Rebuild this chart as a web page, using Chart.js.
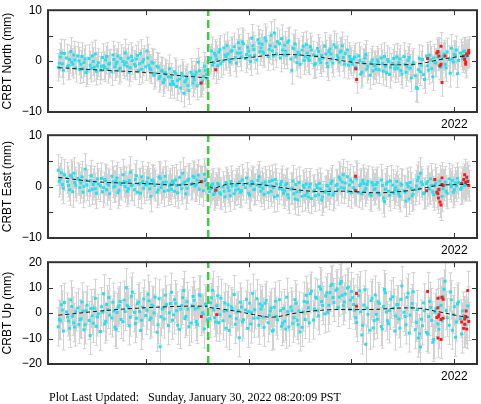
<!DOCTYPE html>
<html>
<head>
<meta charset="utf-8">
<script src="https://cdn.jsdelivr.net/npm/chart.js@4.4.1/dist/chart.umd.min.js"></script>
<style>
  body { margin: 0; background: #fff; width: 481px; height: 404px; position: relative; overflow: hidden; }
  canvas { position: absolute; left: 0; }
  #updated { position: absolute; left: 49px; top: 390px; font: 12px "Liberation Serif", "Times New Roman", serif; line-height: 14px; white-space: pre; color: #000; }
</style>
</head>
<body>
<canvas id="north" width="481" height="135" style="top:-3px"></canvas>
<canvas id="east" width="481" height="136" style="top:122px"></canvas>
<canvas id="up" width="481" height="135" style="top:249px"></canvas>
<div id="updated">Plot Last Updated:   Sunday, January 30, 2022 08:20:09 PST</div>
<script>
//station and event
const station = "CRBT";
const eventYear = 2019.607;
const xMin = 2018.05;
const xMax = 2022.22;
const yearTicks = [2019, 2020, 2021, 2022];

//epochs of the solutions (decimal year), first set
const epochs = [
  2018.15, 2018.17, 2018.19, 2018.21, 2018.24, 2018.26, 2018.28, 2018.30, 2018.32, 2018.35,
  2018.37, 2018.39, 2018.41, 2018.43, 2018.46, 2018.48, 2018.50, 2018.52, 2018.54, 2018.57,
  2018.59, 2018.61, 2018.63, 2018.65, 2018.68, 2018.70, 2018.72, 2018.74, 2018.76, 2018.79,
  2018.81, 2018.83, 2018.85, 2018.87, 2018.90, 2018.92, 2018.94, 2018.96, 2018.98, 2019.01,
  2019.03, 2019.05, 2019.07, 2019.09, 2019.12, 2019.14, 2019.16, 2019.18, 2019.20, 2019.23,
  2019.25, 2019.27, 2019.29, 2019.31, 2019.34, 2019.36, 2019.38, 2019.40, 2019.42, 2019.45,
  2019.47, 2019.49, 2019.51, 2019.53, 2019.56, 2019.58, 2019.60, 2019.63, 2019.65, 2019.67,
  2019.69, 2019.71, 2019.73, 2019.76, 2019.78, 2019.80, 2019.82, 2019.84, 2019.87, 2019.89,
  2019.91, 2019.93, 2019.95, 2019.98, 2020.00, 2020.02, 2020.04, 2020.06, 2020.09, 2020.11,
  2020.13, 2020.15, 2020.17, 2020.20, 2020.22, 2020.24, 2020.26, 2020.28, 2020.31, 2020.33,
  2020.35, 2020.37, 2020.39, 2020.42, 2020.44, 2020.46, 2020.48, 2020.50, 2020.53, 2020.55,
  2020.57, 2020.59, 2020.61, 2020.64, 2020.66, 2020.68, 2020.70, 2020.72, 2020.75, 2020.77,
  2020.79, 2020.81, 2020.83, 2020.86, 2020.88, 2020.90, 2020.92, 2020.94, 2020.97, 2020.99,
  2021.01, 2021.03, 2021.05, 2021.08, 2021.10, 2021.12, 2021.14, 2021.16, 2021.19, 2021.21,
  2021.23, 2021.25, 2021.27, 2021.30, 2021.32, 2021.34, 2021.36, 2021.38, 2021.41, 2021.43,
  2021.45, 2021.47, 2021.49, 2021.52, 2021.54, 2021.56, 2021.58, 2021.60, 2021.63, 2021.65,
  2021.67, 2021.69, 2021.71, 2021.74, 2021.76, 2021.78, 2021.80, 2021.82, 2021.85, 2021.87,
  2021.89, 2021.91, 2021.93, 2021.96, 2021.98, 2022.00, 2022.02, 2022.04, 2022.07, 2022.09,
  2022.11, 2022.13,
];

//second set of epochs, in between the first ones
const epochs2 = [
  2018.16, 2018.18, 2018.20, 2018.23, 2018.25, 2018.27, 2018.29, 2018.31, 2018.34, 2018.36,
  2018.38, 2018.40, 2018.42, 2018.45, 2018.47, 2018.49, 2018.51, 2018.53, 2018.56, 2018.58,
  2018.60, 2018.62, 2018.64, 2018.67, 2018.69, 2018.71, 2018.73, 2018.75, 2018.78, 2018.80,
  2018.82, 2018.84, 2018.86, 2018.89, 2018.91, 2018.93, 2018.95, 2018.97, 2019.00, 2019.02,
  2019.04, 2019.06, 2019.08, 2019.11, 2019.13, 2019.15, 2019.17, 2019.19, 2019.22, 2019.24,
  2019.26, 2019.28, 2019.30, 2019.33, 2019.35, 2019.37, 2019.39, 2019.41, 2019.44, 2019.46,
  2019.48, 2019.50, 2019.52, 2019.55, 2019.57, 2019.59, 2019.62, 2019.64, 2019.66, 2019.68,
  2019.70, 2019.72, 2019.75, 2019.77, 2019.79, 2019.81, 2019.83, 2019.86, 2019.88, 2019.90,
  2019.92, 2019.94, 2019.97, 2019.99, 2020.01, 2020.03, 2020.05, 2020.08, 2020.10, 2020.12,
  2020.14, 2020.16, 2020.19, 2020.21, 2020.23, 2020.25, 2020.27, 2020.30, 2020.32, 2020.34,
  2020.36, 2020.38, 2020.41, 2020.43, 2020.45, 2020.47, 2020.49, 2020.52, 2020.54, 2020.56,
  2020.58, 2020.60, 2020.63, 2020.65, 2020.67, 2020.69, 2020.71, 2020.74, 2020.76, 2020.78,
  2020.80, 2020.82, 2020.85, 2020.87, 2020.89, 2020.91, 2020.93, 2020.96, 2020.98, 2021.00,
  2021.02, 2021.04, 2021.07, 2021.09, 2021.11, 2021.13, 2021.15, 2021.18, 2021.20, 2021.22,
  2021.24, 2021.26, 2021.29, 2021.31, 2021.33, 2021.35, 2021.37, 2021.40, 2021.42, 2021.44,
  2021.46, 2021.48, 2021.51, 2021.53, 2021.55, 2021.57, 2021.59, 2021.62, 2021.64, 2021.66,
  2021.68, 2021.70, 2021.73, 2021.75, 2021.77, 2021.79, 2021.81, 2021.84, 2021.86, 2021.88,
  2021.90, 2021.92, 2021.95, 2021.97, 2021.99, 2022.01, 2022.03, 2022.06, 2022.08, 2022.10,
  2022.12,
];

//north component (mm)
const north = [
  -1.2, 0.8, -0.5, 1.5, -1.0, 0.3, -0.2, 1.2, -1.4, 0.0,
  -0.6, -1.5, 0.4, -1.9, -0.8, 1.0, -1.2, -2.0, -0.3, -1.0,
  -0.9, 0.2, -1.6, -0.4, 1.2, -1.1, -0.2, -1.8, 0.5, -0.7,
  -0.3, 0.6, -1.3, 0.1, -0.9, 1.1, -0.5, -1.6, 0.3, 2.0,
  -0.8, -1.7, -0.4, -2.4, -1.2, -3.0, -2.0, -3.6, -2.6, -1.5,
  -3.2, -4.6, -2.5, -3.8, -5.3, -2.9, -4.1, -3.3, -5.8, -2.7,
  -3.6, -2.2, -0.2, -4.4, -3.0, -1.8, -3.4, 0.6, -0.8, 1.5,
  0.4, 1.8, -0.5, 2.6, 0.9, 1.4, -0.2, 2.1, 0.7, 1.6,
  2.5, 0.8, 3.4, 1.3, 2.0, -0.1, 3.0, 1.1, 4.2, 1.9,
  3.3, 1.5, 4.0, 2.3, 5.1, 1.0, 2.8, 3.8, 0.6, 2.2,
  3.1, 1.2, 4.0, -1.8, 2.4, 0.8, 1.7, -0.6, 2.9, 0.9,
  1.6, 0.1, 2.2, -0.7, 1.0, 1.9, -0.3, 0.6, 1.4, -1.1,
  2.4, 0.4, 3.2, 1.1, -0.2, 2.0, 0.7, 1.5, -0.8, 0.3,
  -0.6, 0.8, -1.5, 0.1, -2.2, -0.4, 1.3, -1.0, -0.3, -1.9,
  -0.9, 0.2, -1.7, -0.5, 0.9, -2.3, -0.1, -1.2, 0.5, -0.8,
  -1.4, 0.4, -2.6, -0.6, -1.1, 0.7, -3.3, -0.2, -5.2, -1.7,
  -2.1, 0.3, -3.6, -0.9, 1.2, -1.5, 0.6, -0.4, 1.7, -1.2,
  0.9, -0.6, 1.8, -2.4, 0.4, 1.3, 2.2, 0.1, 1.0, 1.9,
  0.8, 1.5,
];
const north2 = [
  -0.4, 1.6, -1.8, 0.6, -0.9, 1.9, -0.6, 0.2, 1.0, -1.7,
  0.9, -0.3, -2.3, 0.5, -1.4, -0.1, 1.4, -0.9, -1.8, 0.7,
  -1.3, 0.9, -0.6, -2.1, 0.3, -0.5, 1.0, -1.4, -0.1, 1.6,
  -1.0, -2.2, 0.9, -0.6, 0.4, -1.9, 1.5, -0.2, -1.1, 0.6,
  -1.4, -0.2, -2.8, -1.0, -3.4, -1.9, -4.2, -2.3, -3.1, -4.6,
  -4.0, -2.1, -5.0, -3.5, -2.4, -6.3, -3.7, -4.8, -2.2, -4.3,
  -2.8, -4.9, -1.9, -3.9, -1.0, -2.6, 0.2, 2.0, -0.3, 1.1,
  -0.9, 2.3, 0.0, 1.2, 3.0, 0.3, 1.9, 2.8, -0.4, 3.6,
  1.6, 3.8, 0.5, 2.7, 1.0, 4.5, 2.3, 0.2, 3.5, 2.6,
  1.8, 4.6, 0.9, 3.0, 2.0, 5.5, 1.4, 3.4, 4.4, 1.2,
  2.0, 3.7, 0.4, 2.6, 3.4, -0.3, 1.3, 2.2, 0.1, 3.2,
  0.5, 2.8, 1.2, -0.5, 2.5, 0.3, 1.1, 2.9, -0.4, 1.9,
  1.4, -0.4, 2.7, 0.6, 1.8, 3.0, -0.6, 2.2, 0.9, -0.1,
  0.4, -1.2, 1.0, -2.6, -0.3, 0.6, -1.6, -2.8, 0.2, -0.7,
  -1.6, -0.2, 0.6, -2.0, -1.0, 0.3, -2.6, -0.4, -1.5, 0.8,
  -0.3, -1.9, 0.9, -2.2, 0.1, -1.4, -0.7, -2.9, -5.4, 0.5,
  -0.8, -2.7, 1.0, -1.8, 0.2, -3.1, -0.3, 0.8, -1.0, 0.4,
  1.4, -1.3, 0.3, 2.5, -0.2, 1.1, -2.5, 1.6, 0.5, 2.0,
  1.2,
];

//east component (mm)
const east = [
  3.2, 1.5, 0.4, 2.3, 1.0, -0.6, 1.9, 2.6, 0.2, 1.3,
  0.7, -1.1, 3.4, 0.3, 1.1, -0.5, 0.9, -1.3, 0.5, 1.6,
  -0.2, 1.2, 0.6, -1.4, 0.9, 0.1, 1.7, -0.7, 0.4, 1.0,
  0.8, -0.4, 2.8, 0.3, 1.4, -1.1, 0.6, 1.9, -0.3, 0.9,
  0.5, -1.9, 1.1, 0.2, -0.6, 1.6, 0.4, -0.9, 0.9, 0.1,
  -0.5, 0.7, 1.3, -1.2, 0.3, 2.6, 0.9, -0.3, 1.5, 0.6,
  1.8, 0.4, 2.2, 1.0, -0.8, 1.4, 0.6, -0.4, 0.5, -1.2,
  -0.6, 0.3, -1.5, -0.9, 0.8, -0.2, -1.8, 0.1, -0.7, 0.5,
  0.9, -0.8, 0.4, 1.7, -1.3, 0.2, 0.8, -0.5, 1.2, 0.0,
  0.6, -1.5, 0.3, 1.0, -0.9, -0.2, 1.4, -1.8, 0.4, -0.6,
  -0.8, 0.6, -2.2, -0.3, -1.4, 0.4, -2.6, -0.9, 0.2, -1.7,
  -1.2, -0.1, -2.3, -0.7, 0.3, -1.6, -0.4, -2.0, -0.9, 0.1,
  -0.5, 1.1, -1.3, 0.4, 1.8, -0.2, 2.3, 0.7, -0.9, 1.3,
  0.9, -0.6, 1.5, 0.2, -1.4, 0.6, -0.3, 1.0, -1.8, 0.3,
  -0.4, 0.8, -1.6, 0.2, -2.9, 0.5, -0.9, 1.1, -1.3, -0.1,
  -0.7, -1.9, 0.3, -1.1, 0.6, -2.4, -0.3, -1.5, 0.1, 1.8,
  2.6, 0.4, -1.2, 1.0, -0.5, 0.2, -1.6, 0.7, -0.8, 0.3,
  -0.4, 0.9, -1.3, 0.5, 1.2, -0.6, 0.1, 0.8, -0.2, 0.6,
  0.4, 1.1,
];
const east2 = [
  1.0, 2.7, -0.3, 1.7, 0.2, 2.2, -1.0, 0.8, 1.6, -0.2,
  1.9, 0.0, 1.2, -0.8, 2.1, 0.4, -0.4, 1.5, 0.1, -1.0,
  1.4, -0.6, 0.3, 2.0, -0.1, 1.1, -1.2, 0.7, 2.3, 0.0,
  -0.9, 1.2, 0.2, -0.6, 2.1, 0.5, -1.3, 1.0, 0.3, 1.7,
  -0.4, 1.3, 0.6, -1.1, 1.9, -0.2, 0.8, 2.0, -0.7, 0.5,
  1.1, -0.9, 0.2, 1.8, -0.4, 0.6, -1.4, 1.2, 0.4, 2.0,
  0.1, 1.3, -0.5, 0.9, 2.4, 0.3, -1.0, 0.2, -1.6, -0.3,
  0.6, -1.2, -0.1, -2.0, 0.4, -0.8, 1.0, -1.4, 0.2, -0.5,
  -1.1, 1.3, -0.2, 0.6, -1.7, 1.0, -0.6, 0.3, 1.9, -0.9,
  -0.3, 0.9, -1.2, 0.1, 1.2, -2.0, 0.5, -0.4, 1.0, -1.3,
  0.3, -1.6, -0.5, 1.1, -2.4, -1.0, 0.8, -1.9, -0.2, 0.5,
  -2.0, 0.5, -0.9, -1.8, -0.2, 0.6, -2.6, -1.1, 0.2, -1.5,
  0.6, -1.7, 0.2, -0.6, 1.4, 0.9, -0.3, 1.9, 0.3, -1.2,
  -0.2, 1.8, -1.1, 0.5, 1.2, -0.8, 0.4, -1.5, 0.8, -0.6,
  0.4, -1.2, 1.3, -2.2, -0.5, 0.9, -1.7, 0.3, -0.6, 1.0,
  -1.4, 0.5, -0.8, -2.8, 0.0, 0.8, -1.8, -0.6, 1.2, -0.4,
  0.9, -1.4, 0.6, -0.3, 1.5, -1.0, 0.2, -0.6, 1.1, -1.9,
  0.3, -0.9, 1.5, 0.0, -1.1, 0.7, 1.6, -0.5, 0.9, 0.2,
  1.4,
];

//vertical component (mm)
const up = [
  -5.4, -3.0, 1.2, 4.2, -1.5, -6.0, 2.6, -3.8, 0.5, -4.5,
  -2.2, 0.8, -4.6, 3.1, -8.8, -1.0, 1.9, -5.2, -0.3, 2.5,
  7.6, -3.2, 1.4, -0.8, 4.3, -5.6, 0.2, 2.9, -2.5, 5.1,
  10.0, 2.2, -1.6, 8.3, -4.1, 3.7, 0.6, -2.8, 5.5, 1.1,
  4.8, -1.9, 2.7, 6.2, -4.6, -13.2, 1.5, -2.3, 3.4, 0.1,
  8.2, -0.7, 3.9, -4.8, 1.6, 6.0, -2.1, 4.5, -5.3, 2.8,
  5.0, -3.3, 2.2, 6.8, -0.4, 3.6, -2.6, 4.1, 9.0, -1.8,
  2.9, -3.7, 5.8, 0.7, -5.9, 3.3, -1.2, 1.8, -4.4, 0.4,
  -9.7, 2.4, -2.6, 5.4, 0.6, -4.3, 7.8, 1.3, -1.9, 3.6,
  2.9, -5.6, 5.0, -0.8, 2.0, -6.6, 4.7, -2.7, 0.9, -4.0,
  -3.2, 6.2, -5.5, 1.0, -1.8, 3.9, -4.6, -7.4, 0.4, -2.5,
  4.3, -3.9, 8.6, 1.6, 5.8, -1.0, 9.4, 3.0, 6.7, 0.2,
  8.1, 11.3, 4.2, 9.6, 6.3, 12.4, 2.9, 7.5, 10.2, 5.1,
  6.0, 1.1, -3.7, 8.8, -8.6, 3.2, -12.2, -0.5, 4.9, -5.8,
  7.1, -2.4, 3.8, -6.3, 9.3, 0.4, -4.2, 5.4, 1.9, -1.1,
  3.3, -5.9, 10.7, -1.3, 6.2, -7.8, 2.1, 8.4, -3.6, -9.8,
  -13.3, -5.0, 0.9, -8.2, 4.6, -2.9, -10.4, 1.7, -6.4, 3.0,
  6.4, 12.5, -1.8, 8.3, -6.7, 2.5, -3.5, 4.4, -8.2, -1.0,
  -4.6, 2.8,
];
const up2 = [
  -2.4, 3.3, -7.0, 0.4, -3.1, 5.2, -1.2, -5.5, 2.0, -2.6,
  4.4, -6.5, 0.9, -2.9, 1.8, -4.0, 5.8, -1.5, -7.2, 0.3,
  -4.3, 3.4, 6.1, -1.9, 0.8, -6.4, 2.3, 4.6, -3.4, 0.6,
  3.0, -5.0, 6.6, 0.2, -2.0, 4.4, -6.8, 2.4, -0.9, 7.4,
  -2.6, 3.1, 0.0, -7.5, 5.6, -1.4, 2.0, 7.0, -4.9, 3.8,
  -2.8, 5.3, 0.9, -6.4, 3.0, 8.9, -1.3, 1.5, -3.9, 6.5,
  1.6, -4.5, 7.2, 0.1, -6.2, 2.8, -2.2, 6.0, 1.2, -3.5,
  6.8, -0.6, -3.0, 4.0, 1.0, -6.8, 2.5, 7.3, -2.2, 0.9,
  4.3, -3.5, 1.2, -6.0, 3.9, 0.2, -2.0, 5.6, -4.8, 1.6,
  -1.5, 3.9, -3.8, 0.8, -7.1, 2.3, -1.2, 5.3, -5.2, 1.8,
  -6.3, 0.5, 2.4, -4.0, 5.3, -2.8, 0.8, -5.6, 4.6, 7.0,
  2.1, 7.6, -2.7, 6.2, 0.9, 10.4, 4.6, -0.3, 8.0, 3.1,
  10.8, 6.1, 9.0, 2.2, 11.6, 7.0, 4.4, 9.8, 1.5, 8.5,
  3.4, -1.8, 6.8, 0.5, -4.8, 9.2, 2.0, -6.7, 5.8, -2.9,
  -0.5, 4.5, -5.3, 2.6, 8.0, -3.0, 1.0, 6.4, -7.0, 3.4,
  -2.3, 5.4, 0.3, -4.6, 7.9, -0.8, 3.8, -6.5, 1.4, -8.1,
  -2.4, 4.0, -7.6, -1.3, 2.2, -11.5, 0.3, -4.3, 6.0, -3.1,
  9.4, 1.0, -4.8, 5.2, -0.6, -9.5, 3.6, -2.2, 0.8, -6.0,
  -2.0,
];

//flagged (red) solutions
const northRedX = [2019.54, 2019.68, 2021.04, 2021.05, 2021.74, 2021.83, 2021.84, 2021.87, 2021.85, 2021.86, 2021.87, 2021.88, 2021.91, 2022.09, 2022.10, 2022.11, 2022.12, 2022.14, 2022.14, 2022.11];
const northRedY = [-4.3, -1.7, -1.5, -3.6, 0.5, 1.6, 1.9, 2.9, 1.0, -0.9, -0.6, -4.2, 1.0, 1.0, 0.3, -0.2, 1.4, 1.6, 2.1, -0.6];
const eastRedX = [2019.54, 2019.68, 2021.04, 2021.04, 2021.73, 2021.81, 2021.83, 2021.84, 2021.85, 2021.845, 2021.86, 2021.87, 2021.88, 2021.88, 2021.89, 2022.09, 2022.10, 2022.11, 2022.12, 2022.13, 2022.14, 2022.07];
const eastRedY = [1.0, -0.7, 2.0, -0.8, -0.8, 1.4, -1.1, -1.4, -0.5, -2.2, -3.0, -3.6, 1.7, 0.4, 0.2, 1.4, 2.3, 0.8, 1.8, 1.0, 0.2, 0.6];
const upRedX = [2019.54, 2019.69, 2021.05, 2021.05, 2021.74, 2021.84, 2021.88, 2021.89, 2021.84, 2021.845, 2021.87, 2021.83, 2021.84, 2021.87, 2021.85, 2021.89, 2022.10, 2022.11, 2022.13, 2022.07, 2022.09, 2022.12, 2022.14, 2022.115, 2022.10];
const upRedY = [-1.3, -0.6, 7.7, 2.7, 8.5, 5.8, 6.2, 5.4, 2.1, -1.3, -2.5, -1.7, -9.8, -10.4, -0.6, -2.0, -2.3, -1.3, 8.9, -3.5, -6.0, -6.3, -3.3, 0.8, -4.4];

//model curves (null = break at the event)
const northModelX = [2018.15, 2018.60, 2019.05, 2019.35, 2019.60, eventYear, 2019.62, 2019.81, 2020.01, 2020.29, 2020.62, 2020.78, 2021.04, 2021.26, 2021.53, 2021.68, 2021.87, 2022.04, 2022.14];
const northModelY = [-1.3, -1.8, -2.3, -2.9, -3.3, null, -0.3, 0.35, 0.7, 1.3, 1.0, 0.5, -0.3, -0.65, -0.7, -0.45, 0.35, 0.85, 1.0];
const eastModelX = [2018.15, 2018.55, 2019.04, 2019.28, 2019.45, 2019.58, eventYear, 2019.62, 2019.66, 2019.81, 2020.10, 2020.61, 2020.94, 2021.26, 2021.55, 2021.68, 2021.85, 2022.14];
const eastModelY = [1.8, 0.9, 0.55, 0.3, 0.5, 1.05, null, 0.0, -0.3, 0.5, 0.4, -0.9, -0.9, -1.2, -0.8, -0.4, 0.25, 0.4];
const upModelX = [2018.15, 2018.26, 2018.55, 2018.87, 2019.36, 2019.60, eventYear, 2019.62, 2019.75, 2019.90, 2020.05, 2020.23, 2020.46, 2020.78, 2021.17, 2021.62, 2021.85, 2022.07, 2022.14];
const upModelY = [-0.8, -0.4, 0.8, 1.8, 2.7, 2.7, null, 2.2, 1.5, 0.6, -0.6, -1.6, 0.0, 1.3, 1.4, 2.0, 0.5, -1.3, -1.6];

//typical 1-sigma error (mm)
const northSigma = 2.7;
const eastSigma = 3.0;
const upSigma = 7.5;

//axis ticks
const northTicks = [-10, -5, 0, 5, 10];
const eastTicks = [-10, -5, 0, 5, 10];
const upTicks = [-20, -10, 0, 10, 20];

Chart.defaults.font.family = "'Liberation Sans', Arial, sans-serif";
Chart.defaults.font.size = 12;
Chart.defaults.color = "#000";

//grey error bars under the points
const errorBars = {
  id: "errorBars",
  beforeDatasetsDraw(chart) {
    const { ctx, chartArea, scales } = chart;
    ctx.save();
    ctx.beginPath();
    ctx.rect(chartArea.left, chartArea.top, chartArea.width, chartArea.height);
    ctx.clip();
    ctx.strokeStyle = "#d2d2d2";
    ctx.lineWidth = 1;
    chart.data.datasets.forEach((ds) => {
      if (!ds.sigma) return;
      ds.data.forEach((p) => {
        const x = Math.round(scales.x.getPixelForValue(p.x)) + 0.5;
        const y1 = scales.y.getPixelForValue(p.y - ds.sigma);
        const y2 = scales.y.getPixelForValue(p.y + ds.sigma);
        ctx.beginPath();
        ctx.moveTo(x, y1);
        ctx.lineTo(x, y2);
        ctx.moveTo(x - 2, y1);
        ctx.lineTo(x + 2, y1);
        ctx.moveTo(x - 2, y2);
        ctx.lineTo(x + 2, y2);
        ctx.stroke();
      });
    });
    ctx.restore();
  },
};

//box around plot with inward tick marks
const frame = {
  id: "frame",
  afterDraw(chart) {
    const { ctx, chartArea: a, scales } = chart;
    ctx.save();
    ctx.strokeStyle = "#333";
    ctx.lineWidth = 1;
    ctx.beginPath();
    scales.x.ticks.forEach((t) => {
      const x = Math.round(scales.x.getPixelForValue(t.value)) + 0.5;
      ctx.moveTo(x, a.top);
      ctx.lineTo(x, a.top + 5);
      ctx.moveTo(x, a.bottom);
      ctx.lineTo(x, a.bottom - 5);
    });
    scales.y.ticks.forEach((t) => {
      const y = Math.round(scales.y.getPixelForValue(t.value)) + 0.5;
      ctx.moveTo(a.left, y);
      ctx.lineTo(a.left + 5, y);
      ctx.moveTo(a.right, y);
      ctx.lineTo(a.right - 5, y);
    });
    ctx.stroke();
    ctx.lineWidth = 2;
    ctx.strokeRect(a.left, a.top, a.width, a.height);
    ctx.restore();
  },
};

function pairs(xs, ys) {
  return xs.map((x, i) => ({ x: x, y: ys[i] }));
}

function makePanel(id, title, values, values2, redX, redY, modelX, modelY, sigma, yTicks) {
  const yMin = yTicks[0];
  const yMax = yTicks[yTicks.length - 1];
  return new Chart(document.getElementById(id), {
    type: "scatter",
    plugins: [errorBars, frame],
    data: {
      datasets: [
        {
          //event line
          data: [{ x: eventYear, y: yMin }, { x: eventYear, y: yMax }],
          showLine: true,
          borderColor: "#3dcc3d",
          borderWidth: 2.5,
          borderDash: [8, 4],
          pointRadius: 0,
        },
        {
          //model
          data: pairs(modelX, modelY),
          showLine: true,
          spanGaps: false,
          tension: 0.4,
          borderColor: "#1a1a1a",
          borderWidth: 1,
          borderDash: [4, 3],
          pointRadius: 0,
        },
        {
          data: pairs(redX, redY),
          sigma: sigma,
          pointStyle: "rect",
          pointRadius: 2.1,
          borderWidth: 0,
          backgroundColor: "#ff1a1a",
        },
        {
          data: pairs(epochs, values).concat(pairs(epochs2, values2)),
          sigma: sigma,
          pointStyle: "rect",
          pointRadius: 2.1,
          borderWidth: 0,
          backgroundColor: "#1ce3f3",
        },
      ],
    },
    options: {
      responsive: false,
      animation: false,
      devicePixelRatio: 1,
      layout: { padding: { top: 8, right: 2, left: 0, bottom: 0 } },
      plugins: { legend: { display: false }, tooltip: { enabled: false } },
      scales: {
        x: {
          type: "linear",
          min: xMin,
          max: xMax,
          grid: { display: false, drawTicks: false },
          border: { display: false },
          afterBuildTicks: (scale) => {
            scale.ticks = yearTicks.map((v) => ({ value: v }));
          },
          afterFit: (scale) => {
            scale.height = 20;
          },
          ticks: {
            autoSkip: false,
            maxRotation: 0,
            padding: 5,
            callback: (v) => (v === 2022 ? "2022" : ""),
          },
        },
        y: {
          min: yMin,
          max: yMax,
          grid: { display: false, drawTicks: false },
          border: { display: false },
          afterBuildTicks: (scale) => {
            scale.ticks = yTicks.map((v) => ({ value: v }));
          },
          afterFit: (scale) => {
            scale.width = 48;
          },
          title: { display: true, text: title, padding: 0, font: { size: 12 } },
          ticks: {
            padding: 6,
            callback: (v) => (v % 10 === 0 ? String(v).replace("-", "\u2212") : ""),
          },
        },
      },
    },
  });
}

makePanel("north", station + " North (mm)", north, north2, northRedX, northRedY, northModelX, northModelY, northSigma, northTicks);
makePanel("east", station + " East (mm)", east, east2, eastRedX, eastRedY, eastModelX, eastModelY, eastSigma, eastTicks);
makePanel("up", station + " Up (mm)", up, up2, upRedX, upRedY, upModelX, upModelY, upSigma, upTicks);
</script>
</body>
</html>
